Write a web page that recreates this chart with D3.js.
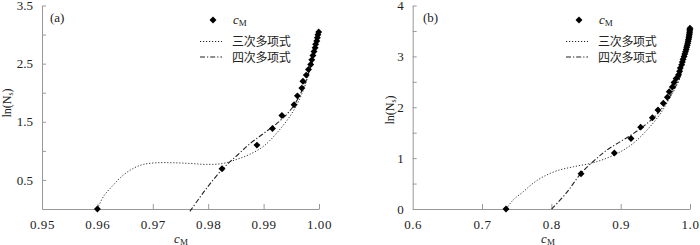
<!DOCTYPE html>
<html lang="zh">
  <head>
    <meta charset="utf-8">
    <title>cM fit</title>
    <style>
      body { margin: 0; background: #fff; }
    </style>
  </head>
  <body>
    <div id="chart-area"></div>
    <script src="https://cdn.jsdelivr.net/npm/d3@7/dist/d3.min.js"></script>
    <script>
      // panel (a): measured points
      const a_cm = [0.9600, 0.9825, 0.9888, 0.9916, 0.9933, 0.9955, 0.9961, 0.9969, 0.9971, 0.9977,
                    0.9981, 0.9985, 0.9987, 0.9989, 0.9991, 0.9993, 0.9994, 0.9996, 0.9997, 0.9998, 0.99995];
      const a_ln = [0, 0.693, 1.099, 1.386, 1.609, 1.792, 1.946, 2.079, 2.197, 2.303,
                    2.398, 2.485, 2.565, 2.639, 2.708, 2.773, 2.833, 2.890, 2.944, 2.996, 3.045];
      // panel (a): fitted curves
      const a_cubic_x = [0.9600, 0.9611, 0.9629, 0.9647, 0.9665, 0.9683, 0.9707, 0.9737, 0.9767, 0.9797,
                         0.9827, 0.9852, 0.9875, 0.9900, 0.9925, 0.9950, 0.9970, 0.9985, 1.0000];
      const a_cubic_y = [0, 0.216, 0.415, 0.585, 0.700, 0.767, 0.795, 0.795, 0.784, 0.767,
                         0.784, 0.855, 0.940, 1.080, 1.320, 1.630, 2.000, 2.450, 3.050];
      const a_quart_x = [0.9767, 0.9795, 0.9826, 0.9852, 0.9875, 0.9900, 0.9925, 0.9950, 0.9970, 0.9985, 0.9995, 1.0000];
      const a_quart_y = [-0.04, 0.33, 0.69, 0.92, 1.12, 1.30, 1.48, 1.72, 2.05, 2.45, 2.80, 3.05];

      // panel (b): measured points
      const b_cm = [0.7346, 0.8428, 0.8909, 0.9149, 0.9288, 0.9457, 0.9538, 0.9615, 0.9673, 0.9700,
                    0.9745, 0.9770, 0.9800, 0.9835, 0.9850, 0.9860, 0.9880, 0.9890, 0.9900, 0.9915,
                    0.9925, 0.9935, 0.9945, 0.9952, 0.9960, 0.9967, 0.9973, 0.9978, 0.9983, 0.9987,
                    0.9991, 0.9994, 0.9996, 0.9998, 0.99995];
      const b_ln = [0, 0.693, 1.099, 1.386, 1.609, 1.792, 1.946, 2.079, 2.197, 2.303,
                    2.398, 2.485, 2.565, 2.639, 2.708, 2.773, 2.833, 2.890, 2.944, 2.996,
                    3.045, 3.091, 3.135, 3.178, 3.219, 3.258, 3.296, 3.332, 3.367, 3.401,
                    3.434, 3.466, 3.497, 3.526, 3.555];
      const b_cubic_x = [0.7346, 0.7451, 0.7595, 0.7740, 0.7884, 0.8077, 0.8317, 0.8557, 0.8750, 0.8990,
                         0.9180, 0.9375, 0.9560, 0.9712, 0.9856, 0.9900, 0.9962, 1.0000];
      const b_cubic_y = [0, 0.18, 0.34, 0.51, 0.635, 0.75, 0.83, 0.895, 0.974, 1.12,
                         1.29, 1.545, 1.85, 2.19, 2.58, 2.91, 3.23, 3.56];
      const b_quart_x = [0.8005, 0.8220, 0.8427, 0.8650, 0.8798, 0.8990, 0.9180, 0.9375, 0.9560, 0.9712,
                         0.9856, 0.9900, 0.9962, 1.0000];
      const b_quart_y = [0, 0.32, 0.70, 0.99, 1.155, 1.32, 1.48, 1.675, 1.92, 2.22,
                         2.60, 2.91, 3.23, 3.56];

      const a_x_ticks = [0.95, 0.96, 0.97, 0.98, 0.99, 1.00];
      const a_y_ticks = [0.5, 1, 1.5, 2, 2.5, 3, 3.5];
      const a_y_labels = [0.5, 1.5, 2.5, 3.5];
      const b_x_ticks = [0.6, 0.7, 0.8, 0.9, 1.0];
      const b_y_ticks = [0, 0.5, 1, 1.5, 2, 2.5, 3, 3.5, 4];
      const b_y_labels = [0, 1, 2, 3, 4];
      const legend_labels = ['三次多项式', '四次多项式'];

      const serif = "'Liberation Serif', 'DejaVu Serif', serif";
      const cjk = "'Noto Sans CJK SC', sans-serif";

      const svg = d3.select('#chart-area')
        .append('svg')
        .attr('width', 700)
        .attr('height', 245);

      const zip = (xs, ys) => xs.map((x, i) => [x, ys[i]]);

      function draw_panel(p) {
        const g = svg.append('g');
        const x_scale = d3.scaleLinear().domain(p.x_domain).range(p.x_range);
        const y_scale = d3.scaleLinear().domain(p.y_domain).range([209, 5.5]);

        const x_axis = g.append('g')
          .attr('transform', 'translate(0,209)')
          .call(d3.axisBottom(x_scale)
            .tickValues(p.x_ticks)
            .tickSizeInner(-5).tickSizeOuter(0)
            .tickPadding(11)
            .tickFormat(p.x_format));
        const y_axis = g.append('g')
          .attr('transform', `translate(${p.x_range[0]},0)`)
          .call(d3.axisLeft(y_scale)
            .tickValues(p.y_ticks)
            .tickSizeInner(-4).tickSizeOuter(0)
            .tickPadding(9)
            .tickFormat(d => p.y_labels.includes(d) ? p.y_format(d) : ''));
        [x_axis, y_axis].forEach(ax => {
          ax.attr('font-family', null);
          ax.select('.domain').attr('stroke', '#999');
          ax.selectAll('.tick line').attr('stroke', '#999');
          ax.selectAll('.tick text')
            .style('font-family', serif)
            .style('font-size', '13px')
            .attr('fill', '#222');
        });
        x_axis.selectAll('.tick text').attr('letter-spacing', '0.6px');
        // no tick mark where the axes meet
        x_axis.selectAll('.tick line').filter(d => d === p.x_domain[0]).remove();

        const line = d3.line()
          .x(d => x_scale(d[0]))
          .y(d => y_scale(d[1]))
          .curve(d3.curveCatmullRom);

        g.append('path')
          .attr('d', line(zip(p.cubic_x, p.cubic_y)))
          .attr('fill', 'none')
          .attr('stroke', '#333')
          .attr('stroke-width', 1)
          .attr('stroke-dasharray', '1.2,1.8');
        g.append('path')
          .attr('d', line(zip(p.quart_x, p.quart_y)))
          .attr('fill', 'none')
          .attr('stroke', '#222')
          .attr('stroke-width', 1.1)
          .attr('stroke-dasharray', '5,2,1.2,2');

        const diamond = d3.symbol().type(d3.symbolSquare).size(24);
        g.selectAll('path.pt').data(zip(p.cm, p.ln)).enter()
          .append('path')
          .attr('class', 'pt')
          .attr('d', diamond)
          .attr('transform', d => `translate(${x_scale(d[0])},${y_scale(d[1])}) rotate(45)`)
          .attr('fill', '#000');

        // panel tag
        g.append('text')
          .attr('x', p.tag_x).attr('y', 22)
          .style('font-family', serif)
          .style('font-size', '13px')
          .attr('fill', '#222')
          .text(p.tag);

        // legend
        const lx = p.legend_x;
        g.append('path')
          .attr('d', diamond)
          .attr('transform', `translate(${lx + 13},20) rotate(45)`)
          .attr('fill', '#000');
        const cm_label = g.append('text')
          .attr('x', lx + 33).attr('y', 24)
          .style('font-family', serif)
          .style('font-size', '13px')
          .attr('fill', '#222');
        cm_label.append('tspan').attr('font-style', 'italic').text('c');
        cm_label.append('tspan').style('font-size', '9px').attr('dy', 2).text('M');

        const styles = [['1.2,1.8', 1], ['5,2,1.2,2', 1.1]];
        legend_labels.forEach((lab, i) => {
          const ly = 41.5 + i * 15.5;
          g.append('line')
            .attr('x1', lx).attr('x2', lx + 22)
            .attr('y1', ly).attr('y2', ly)
            .attr('stroke', '#222')
            .attr('stroke-width', styles[i][1])
            .attr('stroke-dasharray', styles[i][0]);
          g.append('text')
            .attr('x', lx + 32).attr('y', ly + 4.5)
            .style('font-family', cjk)
            .style('font-size', '12px')
            .attr('letter-spacing', '-0.3px')
            .attr('fill', '#222')
            .text(lab);
        });

        // axis titles
        const xt = g.append('text')
          .attr('x', p.xtitle_x).attr('y', 242.5)
          .attr('text-anchor', 'middle')
          .style('font-family', serif)
          .style('font-size', '13px')
          .attr('fill', '#222');
        xt.append('tspan').attr('font-style', 'italic').text('c');
        xt.append('tspan').style('font-size', '9px').attr('dy', 2).text('M');

        const yt = g.append('text')
          .attr('transform', `translate(${p.ytitle_x},${p.ytitle_y}) rotate(-90)`)
          .attr('text-anchor', 'middle')
          .style('font-family', serif)
          .style('font-size', '12px')
          .attr('fill', '#222');
        yt.append('tspan').text('ln(N');
        yt.append('tspan').style('font-size', '8px').attr('dy', 2).text('s');
        yt.append('tspan').attr('dy', -2).text(')');
      }

      draw_panel({
        x_domain: [0.95, 1.0], x_range: [42, 319], y_domain: [0, 3.5],
        x_ticks: a_x_ticks, y_ticks: a_y_ticks, y_labels: a_y_labels,
        x_format: d3.format('.2f'), y_format: d3.format('.1f'),
        cm: a_cm, ln: a_ln,
        cubic_x: a_cubic_x, cubic_y: a_cubic_y, quart_x: a_quart_x, quart_y: a_quart_y,
        tag: '(a)', tag_x: 50, legend_x: 200,
        xtitle_x: 181, ytitle_x: 11, ytitle_y: 103
      });
      draw_panel({
        x_domain: [0.6, 1.0], x_range: [412.7, 690], y_domain: [0, 4],
        x_ticks: b_x_ticks, y_ticks: b_y_ticks, y_labels: b_y_labels,
        x_format: d3.format('.1f'), y_format: d3.format('d'),
        cm: b_cm, ln: b_ln,
        cubic_x: b_cubic_x, cubic_y: b_cubic_y, quart_x: b_quart_x, quart_y: b_quart_y,
        tag: '(b)', tag_x: 423, legend_x: 566,
        xtitle_x: 548, ytitle_x: 394, ytitle_y: 110
      });
    </script>
  </body>
</html>
